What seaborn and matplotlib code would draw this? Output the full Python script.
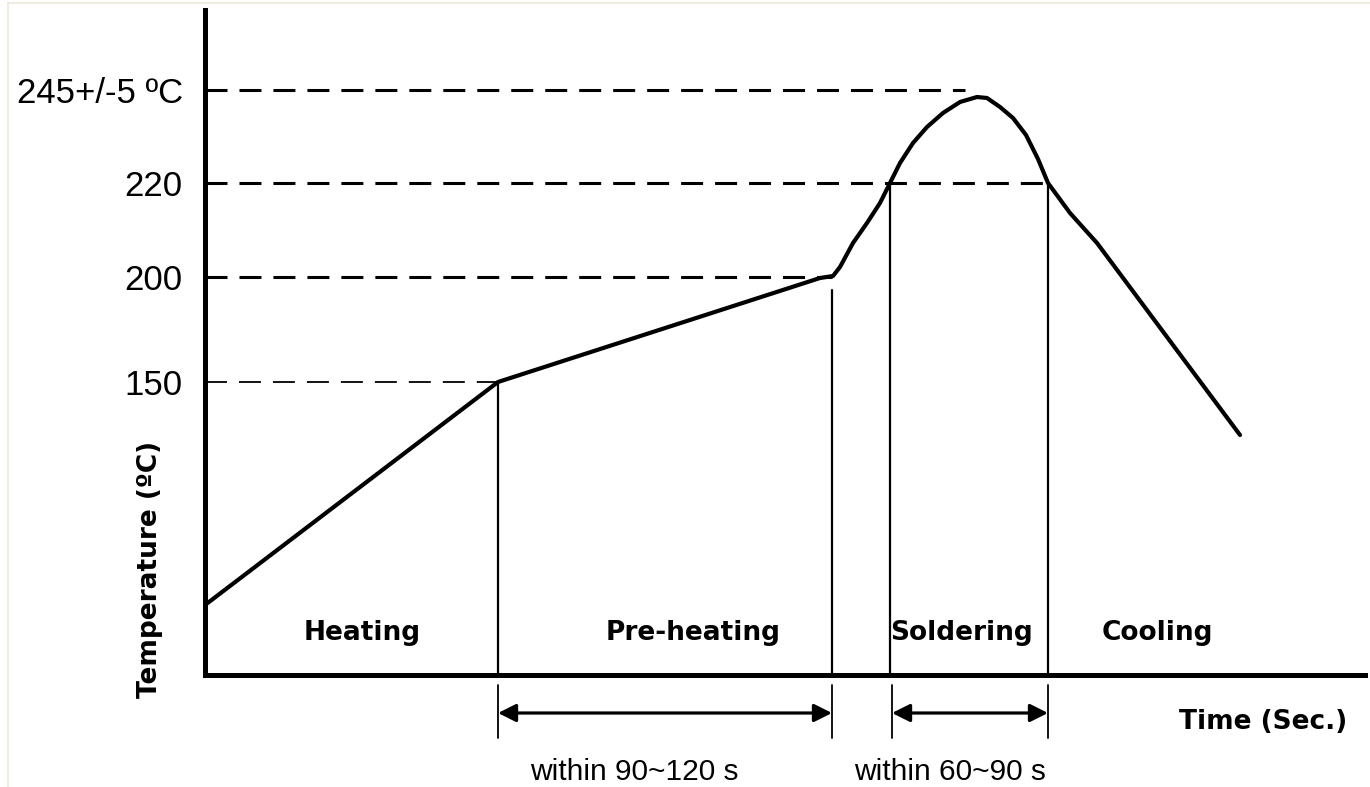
import numpy as np
import pandas as pd
import matplotlib
matplotlib.use("Agg")
import matplotlib.pyplot as plt
from matplotlib.lines import Line2D
import seaborn as sns

# -------------------- Data (schematic units, axis height = 665) -------------------- #
profile_time = [0, 293, 615, 628, 635, 648, 662, 675, 685, 695, 708, 722, 738, 755,
                772, 782, 795, 808, 821, 833, 843, 865, 892, 1035]
profile_level = [70, 293, 397, 399, 408, 432, 452, 472, 492, 512, 532, 548, 562, 573,
                 578, 577, 568, 557, 540, 516, 492, 462, 432, 240]

temp_labels = ["150", "200", "220", "245+/-5 ºC"]
temp_levels = [293, 398, 492, 585]
guide_ends = [293, 627, 843, 760]          # where each dashed guide stops
guide_widths = [1.3, 2.2, 2.2, 2.2]

marker_times = [293, 627, 685, 843]        # vertical phase borders
marker_tops = [293, 385, 492, 492]

phase_names = ["Heating", "Pre-heating", "Soldering", "Cooling"]
phase_centers = [157, 488, 757, 952]

window_starts = [293, 687]
window_ends = [627, 843]
window_labels = ["within 90~120 s", "within 60~90 s"]
window_centers = [429, 745]

profile = pd.DataFrame({"time": profile_time, "level": profile_level})

# -------------------- Figure -------------------- #
sns.set_theme(style="white")
plt.rcParams['font.family'] = ['DejaVu Sans']
plt.rcParams['text.color'] = 'black'
plt.rcParams['axes.labelcolor'] = 'black'
plt.rcParams['ytick.color'] = 'black'

fig = plt.figure(figsize=(13.7, 7.87), dpi=100)
ax = fig.add_axes([205 / 1370, (787 - 675) / 787, 1160 / 1370, 665 / 787])
ax.set_xlim(0, 1160)
ax.set_ylim(0, 665)

# dashed temperature guides
for lvl, end, lw in zip(temp_levels, guide_ends, guide_widths):
    ax.plot([0, end], [lvl, lvl], color="black", lw=lw,
            linestyle=(0, (22 / (lw * 1.39), 12 / (lw * 1.39))))

# phase borders
for t, top in zip(marker_times, marker_tops):
    ax.plot([t, t], [0, top], color="black", lw=1.6)

# the profile curve
sns.lineplot(data=profile, x="time", y="level", sort=False, estimator=None,
             color="black", lw=3.0, ax=ax,
             solid_joinstyle="round", solid_capstyle="round")

# phase names
for name, cx in zip(phase_names, phase_centers):
    ax.text(cx, 42, name, ha="center", va="center", fontsize=19,
            fontweight="heavy")

# time windows under the axis
for s, e, lab, cx in zip(window_starts, window_ends, window_labels, window_centers):
    for t in (s, e):
        ax.plot([t, t], [-10, -63], color="black", lw=1.3, clip_on=False)
    ax.annotate("", xy=(e, -38), xytext=(s, -38), xycoords="data",
                arrowprops=dict(arrowstyle="<|-|>", color="black", lw=2.3,
                                mutation_scale=27, shrinkA=0, shrinkB=0),
                annotation_clip=False)
    ax.text(cx, -97, lab, ha="center", va="center", fontsize=21.5,
            family="Liberation Sans")

# axes styling
for side in ("top", "right"):
    ax.spines[side].set_visible(False)
for side in ("left", "bottom"):
    ax.spines[side].set_linewidth(3.6)
    ax.spines[side].set_color("black")

ax.set_xticks([])
ax.set_yticks(temp_levels)
ax.set_yticklabels(temp_labels, fontsize=25, family="Liberation Sans")
ax.tick_params(axis="y", length=0, pad=16)

ax.set_ylabel("Temperature (ºC)", fontsize=19, fontweight="heavy")
ax.yaxis.set_label_coords(-0.036, 0.158)
ax.set_xlabel("Time (Sec.)", fontsize=19, fontweight="heavy")
ax.xaxis.label.set_va("center")
ax.xaxis.set_label_coords(0.912, -0.071)

# faint frame of the original picture
fig.add_artist(Line2D([0.006, 0.006], [0, 0.997], color="#efe9dc", lw=1.2))
fig.add_artist(Line2D([0.006, 1], [0.996, 0.996], color="#efe9dc", lw=1.2))

fig.savefig("out.png", dpi=100, facecolor="white")
